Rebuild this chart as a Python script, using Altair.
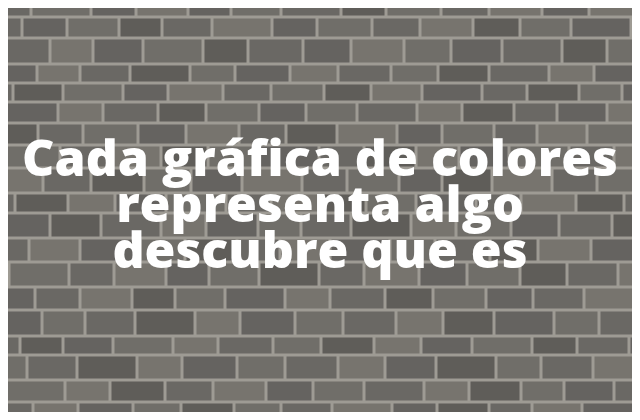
import altair as alt
import pandas as pd

# Horizontal mortar lines (y, px from top)
row_bounds = [0, 17, 38, 64, 83, 102, 123, 145, 168, 193, 213, 238, 262, 287, 310, 336, 355, 380, 402, 420]
# Left offset of the first vertical joint in each row
row_offsets = [40, 22, 13, 45, 30, 8, 38, 20, 48, 27, 10, 42, 18, 35, 5, 28, 44, 15, 33]
# Typical brick lengths (px) read from a few rows
brick_widths = [51, 60, 45, 52, 43, 50, 60, 45, 55, 48, 53, 47]
# Brick shade per row (index into palette)
row_shades = [
    "23141320324142",
    "21302413240312",
    "32413021431203",
    "14203142302413",
    "20314230412031",
    "31420313240214",
    "02314204132430",
    "13240312041324",
    "42031423104231",
    "20413240312402",
    "31024132043120",
    "24130241320413",
    "03241302413024",
    "12403142031240",
    "41320413240132",
    "20134230413021",
    "32041324103240",
    "13402413240312",
    "24130324102413",
]
palette = ["#5f5d59", "#656360", "#6a6864", "#706e69", "#77746e"]
mortar = "#9e9b94"

lines = ["Cada gráfica de colores", "representa algo", "descubre que es"]
first_baseline = 176
line_height = 46

rows = []
for r in range(len(row_bounds) - 1):
    x = row_offsets[r] - 60
    i = r
    k = 0
    while x < 650:
        w = brick_widths[i % len(brick_widths)]
        shade = int(row_shades[r][k % len(row_shades[r])])
        rows.append({
            "x": x + 1.5, "x2": x + w - 1.5,
            "y": row_bounds[r] + 1.5, "y2": row_bounds[r + 1] - 1.5,
            "shade": str(shade),
        })
        x += w
        i += 1
        k += 1
bricks = pd.DataFrame(rows)
texts = pd.DataFrame({"t": ["\n".join(lines)], "x": [320], "y": [first_baseline]})

xs = alt.Scale(domain=[8, 632], nice=False, zero=False)
ys = alt.Scale(domain=[8, 412], nice=False, zero=False, reverse=True)

wall = alt.Chart(bricks).mark_rect(clip=True).encode(
    x=alt.X("x:Q", scale=xs, axis=None),
    x2="x2",
    y=alt.Y("y:Q", scale=ys, axis=None),
    y2="y2",
    color=alt.Color("shade:N", scale=alt.Scale(domain=[str(i) for i in range(5)], range=palette), legend=None),
)

label = alt.Chart(texts).mark_text(
    font="Open Sans", fontWeight=800, fontSize=50, color="white",
    align="center", baseline="alphabetic", lineBreak="\n", lineHeight=line_height,
).encode(
    x=alt.X("x:Q", scale=xs, axis=None),
    y=alt.Y("y:Q", scale=ys, axis=None),
    text="t:N",
)

chart = alt.layer(wall, label).properties(
    width=624, height=404, background=mortar, padding=0,
    autosize=alt.AutoSizeParams(type="fit", contains="padding"),
).configure_view(stroke=None)

chart.save("out.html", embed_options={"renderer": "svg", "actions": False})
